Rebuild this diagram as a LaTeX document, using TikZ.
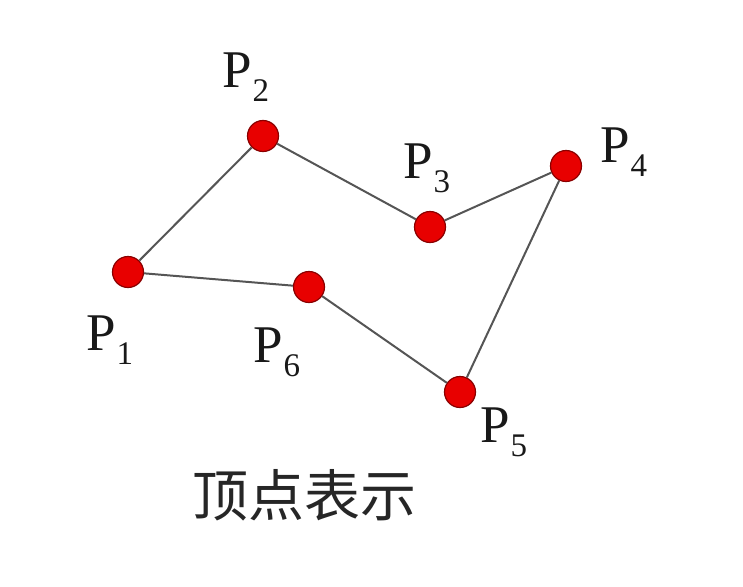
\documentclass[tikz,border=0pt]{standalone}
\usepackage{fontspec}
\setmainfont{Liberation Serif}
\newfontfamily\cjk{Noto Sans CJK SC}
\definecolor{dotred}{HTML}{E80000}
\definecolor{dotrim}{HTML}{8A0000}
\definecolor{edgegray}{HTML}{555555}
\newcommand\plab[1]{{\fontsize{53}{53}\selectfont P}\kern1pt{\fontsize{33}{33}\selectfont\raisebox{-14pt}{#1}}}
\tikzset{
  vdot/.style={circle, minimum size=31pt, inner sep=0pt, fill=dotred, draw=dotrim, line width=1.2pt},
  edge/.style={draw=edgegray, line width=2pt},
  plabel/.style={anchor=base west, inner sep=0pt, text=black!90}
}
\begin{document}
\begin{tikzpicture}[x=1pt, y=-1pt]
\useasboundingbox (0,0) rectangle (743,586);
\node[vdot] (p1) at (128,272) {};
\node[vdot] (p2) at (263,136) {};
\node[vdot] (p3) at (430,227) {};
\node[vdot] (p4) at (566,166) {};
\node[vdot] (p5) at (460,392) {};
\node[vdot] (p6) at (309,287) {};
\draw[edge] (p1) -- (p2);
\draw[edge] (p2) -- (p3);
\draw[edge] (p3) -- (p4);
\draw[edge] (p4) -- (p5);
\draw[edge] (p5) -- (p6);
\draw[edge] (p6) -- (p1);
\node[plabel] (l1) at (86,350) {\plab{1}};
\node[plabel] (l2) at (222,87) {\plab{2}};
\node[plabel] (l3) at (403,178) {\plab{3}};
\node[plabel] (l4) at (600,162) {\plab{4}};
\node[plabel] (l5) at (480,442) {\plab{5}};
\node[plabel] (l6) at (253,362) {\plab{6}};
\node[inner sep=0pt, text=black!85] (cap) at (304,495) {\cjk\fontsize{56}{56}\selectfont 顶点表示};
\end{tikzpicture}
\end{document}
